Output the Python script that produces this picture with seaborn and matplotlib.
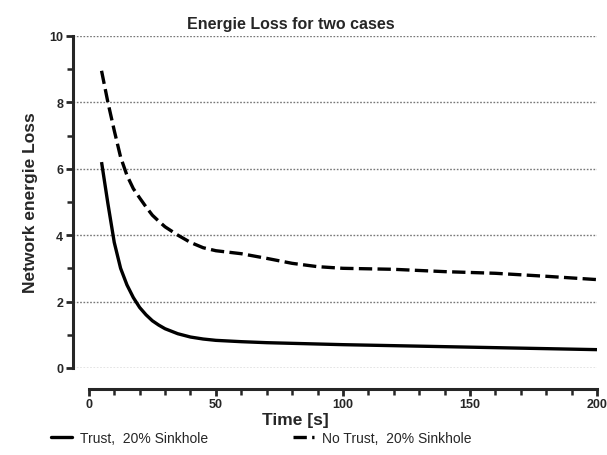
import numpy as np
import pandas as pd
import matplotlib
matplotlib.use("Agg")
import matplotlib.pyplot as plt
import seaborn as sns
from matplotlib.lines import Line2D

time_s = [5, 7.5, 10, 12.5, 15, 17.5, 20, 22.5, 25, 27.5, 30, 35, 40, 45, 50, 60, 70, 80, 90, 100,
          120, 140, 160, 180, 200]
trust = [6.2, 4.95, 3.78, 3.0, 2.5, 2.12, 1.82, 1.6, 1.42, 1.29, 1.18, 1.03, 0.93, 0.87, 0.83,
         0.79, 0.76, 0.74, 0.72, 0.70, 0.67, 0.64, 0.61, 0.58, 0.55]
no_trust = [8.95, 8.0, 7.15, 6.35, 5.8, 5.4, 5.12, 4.85, 4.6, 4.42, 4.25, 4.0, 3.78, 3.62, 3.53,
            3.44, 3.3, 3.15, 3.05, 3.0, 2.97, 2.9, 2.85, 2.76, 2.66]
series_names = ["Trust,  20% Sinkhole", "No Trust,  20% Sinkhole"]

sns.set_style("ticks")
plt.rcParams["font.family"] = ["Liberation Sans", "DejaVu Sans"]

df = pd.DataFrame({
    "Time": time_s * 2,
    "Loss": trust + no_trust,
    "Case": [series_names[0]] * len(time_s) + [series_names[1]] * len(time_s),
})

fig = plt.figure(figsize=(6.07, 4.56), dpi=100)
ax = fig.add_axes([0.120, 0.191, 0.8635, 0.728])

sns.lineplot(data=df, x="Time", y="Loss", hue="Case", style="Case",
             palette=["black", "black"], dashes=[(1, 0), (4, 1.6)],
             linewidth=2.4, ax=ax, legend=False, clip_on=False)

ax.set_xlim(-6.3, 200)
ax.set_ylim(0, 10)
ax.set_yticks(np.arange(0, 11, 2))
ax.set_yticks(np.arange(1, 10, 2), minor=True)
ax.set_xticks([0, 50, 100, 150, 200])
ax.set_xticks(np.arange(0, 201, 10), minor=True)

for y in np.arange(0, 11, 2):
    ax.axhline(y, color="#777777", linestyle=(0, (1.2, 1.2)), linewidth=1.0, zorder=0)

sns.despine(ax=ax)
ax.spines["left"].set_linewidth(2.2)
ax.spines["bottom"].set_linewidth(2.2)
ax.spines["bottom"].set_position(("outward", 15))
ax.spines["bottom"].set_bounds(0, 200)

ax.tick_params(axis="both", which="major", length=5, width=2, labelsize=9, pad=2)
ax.tick_params(axis="both", which="minor", length=4, width=1.8)
for lab in ax.get_xticklabels() + ax.get_yticklabels():
    lab.set_fontweight("bold")

ax.set_title("Energie Loss for two cases", fontsize=11.5, fontweight="bold", pad=6, x=0.416)
ax.set_xlabel("Time [s]", fontsize=12.5, fontweight="bold", labelpad=2)
ax.xaxis.set_label_coords(0.424, -0.132)
ax.set_ylabel("Network energie Loss", fontsize=12.5, fontweight="bold", labelpad=8)

handles = [Line2D([], [], color="black", lw=2.4),
           Line2D([], [], color="black", lw=2.4, dashes=(4, 1.6))]
fig.legend(handles, series_names, loc="center", bbox_to_anchor=(0.43, 0.038), ncol=2,
           frameon=False, fontsize=10, handlelength=1.5, columnspacing=6.1, handletextpad=0.6)

fig.savefig("out.png", dpi=100)
